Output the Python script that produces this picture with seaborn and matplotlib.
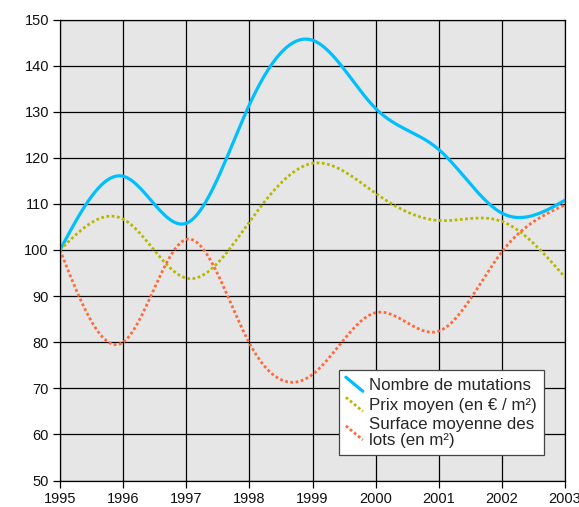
import numpy as np
import pandas as pd
import matplotlib
matplotlib.use("Agg")
import matplotlib.pyplot as plt
from matplotlib.lines import Line2D
from matplotlib.legend_handler import HandlerLine2D
import seaborn as sns

# yearly index values (base 100 in 1995)
years = [1995, 1996, 1997, 1998, 1999, 2000, 2001, 2002, 2003]
mutations = [100, 116, 105.8, 131.5, 145.5, 130.7, 121.8, 108, 110.8]
prix = [100, 106.7, 93.9, 106.1, 118.8, 112.3, 106.4, 106.2, 94.1]
surface = [100, 80, 102.3, 79.8, 73, 86.4, 82.4, 99.6, 109.8]

labels = ["Nombre de mutations", "Prix moyen (en € / m²)", "Surface moyenne des\nlots (en m²)"]
colors = ["#00BFFF", "#B8B800", "#FF6A3D"]


# smoothed line through the yearly points (natural cubic spline, drawing only)
def smooth(x, y, steps=30):
    x = np.asarray(x, float)
    y = np.asarray(y, float)
    n = len(x)
    h = np.diff(x)
    A = np.zeros((n, n))
    b = np.zeros(n)
    A[0, 0] = A[-1, -1] = 1
    for i in range(1, n - 1):
        A[i, i - 1] = h[i - 1]
        A[i, i] = 2 * (h[i - 1] + h[i])
        A[i, i + 1] = h[i]
        b[i] = 6 * ((y[i + 1] - y[i]) / h[i] - (y[i] - y[i - 1]) / h[i - 1])
    m = np.linalg.solve(A, b)
    xs, ys = [], []
    for i in range(n - 1):
        t = np.linspace(x[i], x[i + 1], steps, endpoint=False)
        a, c = x[i + 1] - t, t - x[i]
        s = (m[i] * a ** 3 + m[i + 1] * c ** 3) / (6 * h[i]) \
            + (y[i] / h[i] - m[i] * h[i] / 6) * a + (y[i + 1] / h[i] - m[i + 1] * h[i] / 6) * c
        xs.extend(t)
        ys.extend(s)
    xs.append(x[-1])
    ys.append(y[-1])
    return np.array(xs), np.array(ys)


class DiagHandler(HandlerLine2D):
    def create_artists(self, legend, orig_handle, xdescent, ydescent,
                       width, height, fontsize, trans):
        line = Line2D([-xdescent, width - xdescent], [height - ydescent, -ydescent])
        self.update_prop(line, orig_handle, legend)
        line.set_transform(trans)
        return [line]


sns.set_theme(style="ticks")
plt.rcParams["font.family"] = ["Liberation Sans", "DejaVu Sans"]

fig, ax = plt.subplots(figsize=(5.79, 5.07), dpi=100)
fig.subplots_adjust(left=60 / 579, right=565 / 579, top=1 - 19.5 / 507, bottom=1 - 480.5 / 507)
ax.set_facecolor("#E6E6E6")

styles = [dict(linewidth=2.3, linestyle="-"),
          dict(linewidth=2.0, linestyle=(0, (1, 0.9)), dash_capstyle="butt"),
          dict(linewidth=2.0, linestyle=(0, (1, 0.9)), dash_capstyle="butt")]

for vals, lab, col, st in zip([mutations, prix, surface], labels, colors, styles):
    sx, sy = smooth(years, vals)
    df = pd.DataFrame({"x": sx, "y": sy})
    sns.lineplot(data=df, x="x", y="y", sort=False, color=col, label=lab, ax=ax, **st)

ax.set_xlim(1995, 2003)
ax.set_ylim(50, 150)
ax.set_xticks(years)
ax.set_yticks(range(50, 151, 10))
ax.grid(True, color="black", linewidth=0.9)
ax.set_axisbelow(True)
for s in ax.spines.values():
    s.set_color("black")
    s.set_linewidth(0.9)
ax.tick_params(length=5, width=0.9, color="black", labelsize=10.5, pad=3, labelcolor="#111111")
ax.set_xlabel("")
ax.set_ylabel("")

leg = ax.legend(loc="lower left", bbox_to_anchor=(0.552, 0.055), borderaxespad=0,
                frameon=True, fancybox=False, framealpha=1, edgecolor="#444444",
                fontsize=12.2, handlelength=1.0, handleheight=0.9, handletextpad=0.35,
                labelspacing=0.25, borderpad=0.42,
                handler_map={Line2D: DiagHandler()})
leg.get_frame().set_linewidth(0.9)
for t in leg.get_texts():
    t.set_linespacing(1.05)

fig.savefig("out.png", dpi=100)
